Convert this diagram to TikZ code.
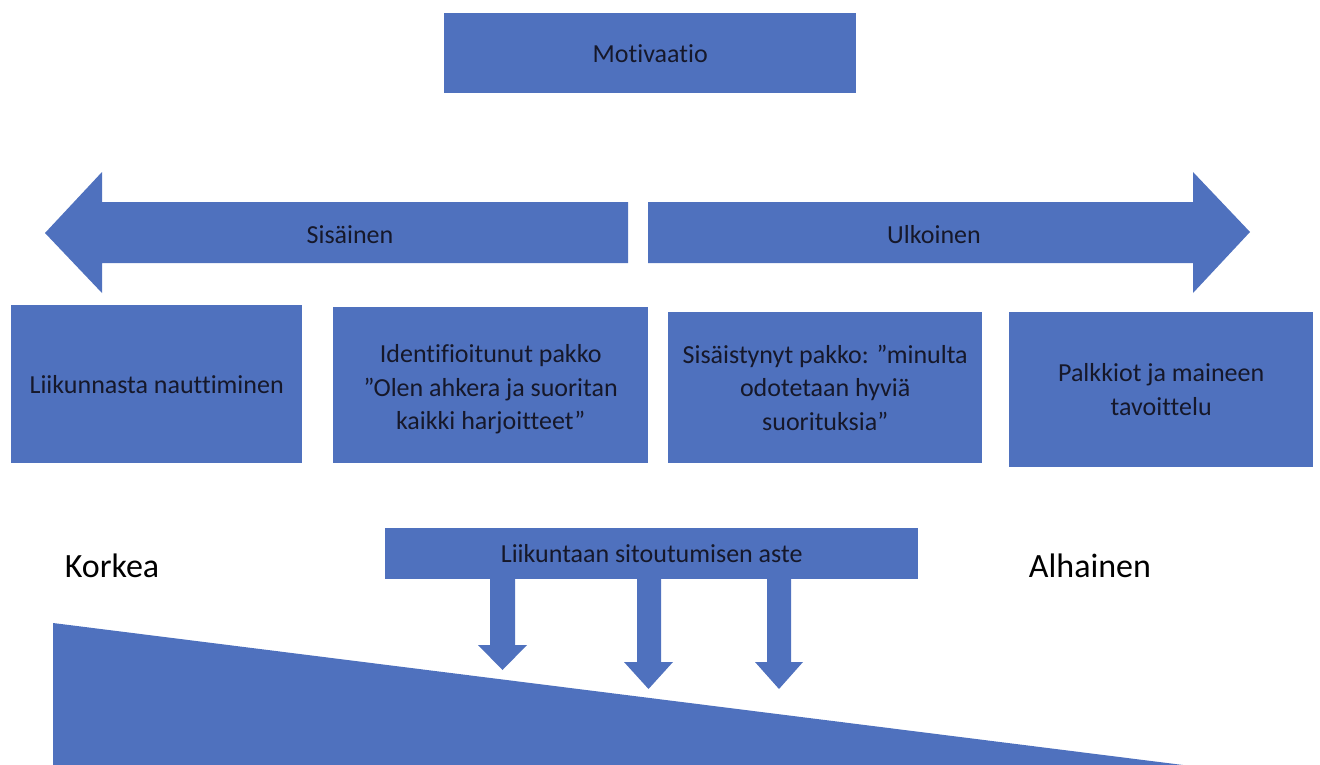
\documentclass[tikz,border=0pt]{standalone}
\usepackage{fontspec}
\setmainfont[Ligatures=NoCommon]{Carlito}
\definecolor{blk}{HTML}{4F71BE}
\definecolor{txt}{HTML}{16182A}
\begin{document}
\begin{tikzpicture}[x=1pt,y=-1pt,
  box/.style={fill=blk,draw=none,inner sep=0pt,anchor=north west,align=center,text=txt,font=\fontsize{26}{33.5}\selectfont},
  lbl/.style={text=txt,inner sep=0pt,font=\fontsize{26}{33.5}\selectfont},
  big/.style={text=black,inner sep=0pt,font=\fontsize{34}{40}\selectfont}]
\useasboundingbox (0,0) rectangle (1320,765);
% top box
\node[box,minimum width=412pt,minimum height=80pt] (mot) at (444,13) {Motivaatio};
% big arrows
\fill[blk] (45,233) -- (102,172) -- (102,202) -- (628,202) -- (628,263) -- (102,263) -- (102,293) -- cycle;
\fill[blk] (1250,232) -- (1193,172) -- (1193,202) -- (648,202) -- (648,263) -- (1193,263) -- (1193,293) -- cycle;
\node[lbl] (sis) at (350,235) {Sisäinen};
\node[lbl] (ulk) at (934,235) {Ulkoinen};
% four boxes
\node[box,minimum width=291pt,minimum height=158pt] (b1) at (11,305) {Liikunnasta nauttiminen};
\node[box,minimum width=315pt,minimum height=156pt,
  label={[lbl,align=center,yshift=-4pt]center:Identifioitunut pakko\\”Olen ahkera ja suoritan\\kaikki harjoitteet”}] (b2) at (333,307) {};
\node[box,minimum width=314pt,minimum height=151pt] (b3) at (668,312) {Sisäistynyt pakko: ”minulta\\odotetaan hyviä\\suorituksia”};
\node[box,minimum width=304pt,minimum height=155pt] (b4) at (1009,312) {Palkkiot ja maineen\\tavoittelu};
% degree box
\node[box,minimum width=533pt,minimum height=51pt] (aste) at (385,528) {Liikuntaan sitoutumisen aste};
\node[big] (kor) at (112,566) {Korkea};
\node[big] (alh) at (1090,566) {Alhainen};
% down arrows
\fill[blk] (490,579) -- (515,579) -- (515,645) -- (527,645) -- (502.5,670) -- (478,645) -- (490,645) -- cycle;
\fill[blk] (637,579) -- (661,579) -- (661,662) -- (673,662) -- (648.5,689) -- (624,662) -- (637,662) -- cycle;
\fill[blk] (767,579) -- (791,579) -- (791,662) -- (803,662) -- (779,689) -- (755,662) -- (767,662) -- cycle;
% wedge
\fill[blk] (53,623) -- (1183,765) -- (53,765) -- cycle;
\end{tikzpicture}
\end{document}
